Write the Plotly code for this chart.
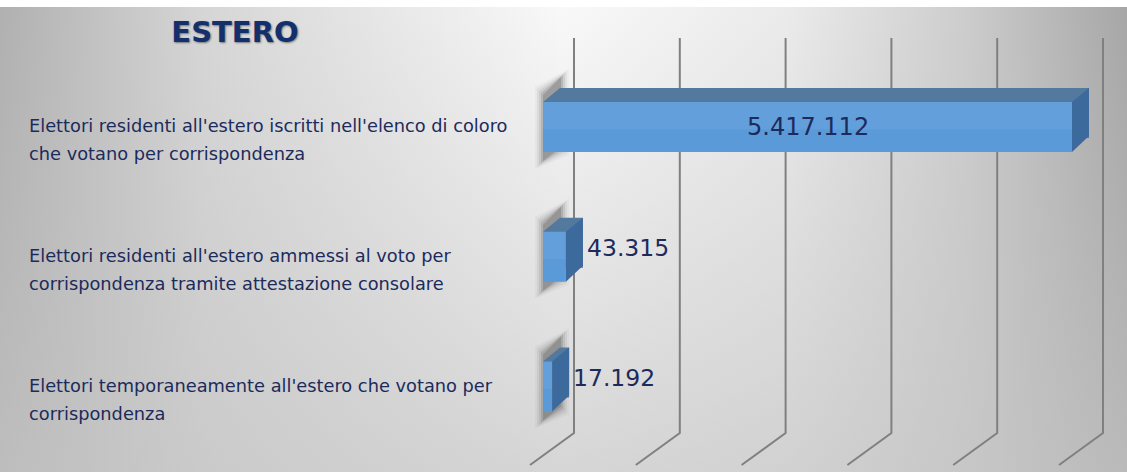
import base64
import plotly.graph_objects as go

# ---- data -------------------------------------------------------------
title_text = "ESTERO"
categories = [
    "Elettori residenti all'estero iscritti nell'elenco di coloro<br>che votano per corrispondenza",
    "Elettori residenti all'estero ammessi al voto per<br>corrispondenza tramite attestazione consolare",
    "Elettori temporaneamente all'estero che votano per<br>corrispondenza",
]
values = [5417112, 43315, 17192]

axis_max = 1_000_000   # value axis stops here; longer bars are cut at the edge
axis_step = 200_000    # spacing of the perspective gridlines

# ---- styling / geometry ----------------------------------------------
W, H = 1127, 472
FONT = "DejaVu Sans"
NAVY = "#1c2b5c"
FRONT_C = "#5a9ad8"
HILITE_C = "rgba(255,255,255,0.06)"
TOP_C = "#53799f"
SIDE_C = "#3d6a9d"
GRID_C = "#808080"

FRONT_X0, FRONT_X1 = 543, 1072        # front plane of the bars (pixels)
DEPTH_X, DEPTH_Y = 17, 14             # bar depth offset (pixels)
ROW_TOP, ROW_BOT = 62.1, 451.4        # vertical extent of the category band
BAR_W = 0.385

def fmt(v):
    return f"{v:,}".replace(",", ".")

positions = list(range(len(values)))

front_dom_x = [FRONT_X0 / W, FRONT_X1 / W]
front_dom_y = [1 - ROW_BOT / H, 1 - ROW_TOP / H]
back_dom_x = [(FRONT_X0 + DEPTH_X) / W, (FRONT_X1 + DEPTH_X) / W]
back_dom_y = [front_dom_y[0] + DEPTH_Y / H, front_dom_y[1] + DEPTH_Y / H]

# ---- background ---------------------------------------------------------
svg = f"""<svg xmlns='http://www.w3.org/2000/svg' width='{W}' height='{H}'>
<defs>
<linearGradient id='h' x1='0' y1='0' x2='1' y2='0'>
<stop offset='0' stop-color='#b0b0b0'/>
<stop offset='0.18' stop-color='#d6d6d6'/>
<stop offset='0.5' stop-color='#f9f9f9'/>
<stop offset='0.7' stop-color='#ebebeb'/>
<stop offset='0.86' stop-color='#cccccc'/>
<stop offset='1' stop-color='#a6a6a6'/>
</linearGradient>
<linearGradient id='v' x1='0' y1='0' x2='0' y2='1'>
<stop offset='0' stop-color='#c4c4c4' stop-opacity='0'/>
<stop offset='1' stop-color='#c4c4c4' stop-opacity='0.66'/>
</linearGradient>
</defs>
<rect width='{W}' height='{H}' fill='url(#h)'/>
<rect width='{W}' height='{H}' fill='url(#v)'/>
<rect width='{W}' height='7' fill='#ffffff'/>
</svg>"""
bg_uri = "data:image/svg+xml;base64," + base64.b64encode(svg.encode()).decode()

fig = go.Figure()

# back plane of the bars (gives the top face)
fig.add_trace(go.Bar(
    x=values, y=positions, orientation="h", xaxis="x", yaxis="y",
    width=BAR_W, marker=dict(color=TOP_C, line_width=0),
    hoverinfo="skip", showlegend=False,
))
# front face of the bars
fig.add_trace(go.Bar(
    x=values, y=positions, orientation="h", xaxis="x2", yaxis="y2",
    width=BAR_W, marker=dict(color=FRONT_C, line_width=0),
    hoverinfo="skip", showlegend=False,
))
# light sheen on the upper half of the front face
fig.add_trace(go.Bar(
    x=values, y=positions, orientation="h", xaxis="x2", yaxis="y2",
    width=BAR_W * 0.55, offset=-BAR_W / 2,
    marker=dict(color=HILITE_C, line_width=0),
    hoverinfo="skip", showlegend=False,
))

shapes = []

# perspective gridlines: back wall vertical + floor diagonal
t = 0
while t <= axis_max:
    shapes.append(dict(
        type="path", xref="x2 domain", yref="paper",
        xsizemode="pixel", ysizemode="pixel",
        xanchor=t / axis_max, yanchor=0,
        path="M31,434 L31,39 L-13,7",
        line=dict(color=GRID_C, width=2), layer="below",
    ))
    t += axis_step

half = 25  # half height of the front face in pixels
for i, v in enumerate(values):
    end = min(v, axis_max) / axis_max
    # soft shadow at the bar's root
    for grow, op in [(6, 0.04), (4, 0.06), (2, 0.09), (0, 0.14), (-2, 0.18)]:
        shapes.append(dict(
            type="path", xref="x2 domain", yref="y2",
            xsizemode="pixel", ysizemode="pixel", xanchor=0, yanchor=i,
            path=f"M{-2-grow},{-36-grow} L{-2-grow},{34+grow} "
                 f"L{20+grow},{52+grow} L{20+grow},{-22-grow} Z",
            fillcolor=f"rgba(40,40,40,{op})", line_width=0, layer="below",
        ))
    # left corner of the top face
    shapes.append(dict(
        type="path", xref="x2 domain", yref="y2",
        xsizemode="pixel", ysizemode="pixel", xanchor=0, yanchor=i,
        path=f"M0,{half} L{DEPTH_X},{half+DEPTH_Y} L{DEPTH_X},{half} Z",
        fillcolor=TOP_C, line_width=0, layer="above",
    ))
    # right side face
    shapes.append(dict(
        type="path", xref="x2 domain", yref="y2",
        xsizemode="pixel", ysizemode="pixel", xanchor=end, yanchor=i,
        path=f"M0,{half} L{DEPTH_X},{half+DEPTH_Y} "
             f"L{DEPTH_X},{-half+DEPTH_Y+2} L0,{-half} Z",
        fillcolor=SIDE_C, line_width=0, layer="above",
    ))

annotations = []
# category labels, one annotation per text line
for i, cat in enumerate(categories):
    for k, line in enumerate(cat.split("<br>")):
        annotations.append(dict(
            x=27 / W, xref="paper", y=i, yref="y2",
            text=line, showarrow=False, xanchor="left", yanchor="middle",
            yshift=1 - 28 * k,
            font=dict(family=FONT, size=17.8, color=NAVY),
        ))

# value labels
for i, v in enumerate(values):
    shown = min(v, axis_max)
    if shown >= axis_max / 2:
        annotations.append(dict(
            x=shown / 2, xref="x2", y=i, yref="y2", text=fmt(v),
            showarrow=False, xanchor="center", yanchor="middle",
            font=dict(family=FONT, size=24, color=NAVY),
        ))
    else:
        annotations.append(dict(
            x=v, xref="x2", y=i, yref="y2", text=fmt(v),
            showarrow=False, xanchor="left", yanchor="middle",
            xshift=DEPTH_X + 2, yshift=9,
            font=dict(family=FONT, size=23.5, color=NAVY),
        ))

hidden = dict(showgrid=False, zeroline=False, showticklabels=False,
              ticks="", showline=False, fixedrange=True)

fig.update_layout(
    width=W, height=H,
    margin=dict(l=0, r=0, t=0, b=0),
    paper_bgcolor="rgba(0,0,0,0)", plot_bgcolor="rgba(0,0,0,0)",
    barmode="overlay",
    title=dict(
        text=f"<b>{title_text}</b>", x=235 / W, xanchor="center",
        y=1 - 32 / H, yanchor="middle",
        font=dict(family=FONT, size=29, color="#14306c",
                  shadow="1px 1px 2px rgba(0,0,0,0.45)"),
    ),
    xaxis=dict(domain=back_dom_x, range=[0, axis_max], anchor="y", **hidden),
    yaxis=dict(domain=back_dom_y, range=[len(values) - 0.5, -0.5], anchor="x", **hidden),
    xaxis2=dict(domain=front_dom_x, range=[0, axis_max], anchor="y2", **hidden),
    yaxis2=dict(domain=front_dom_y, range=[len(values) - 0.5, -0.5], anchor="x2", **hidden),
    shapes=shapes,
    annotations=annotations,
    images=[dict(source=bg_uri, xref="paper", yref="paper", x=0, y=1,
                 sizex=1, sizey=1, xanchor="left", yanchor="top",
                 sizing="stretch", layer="below")],
)

fig.write_html("out.html", config={"displayModeBar": False})
